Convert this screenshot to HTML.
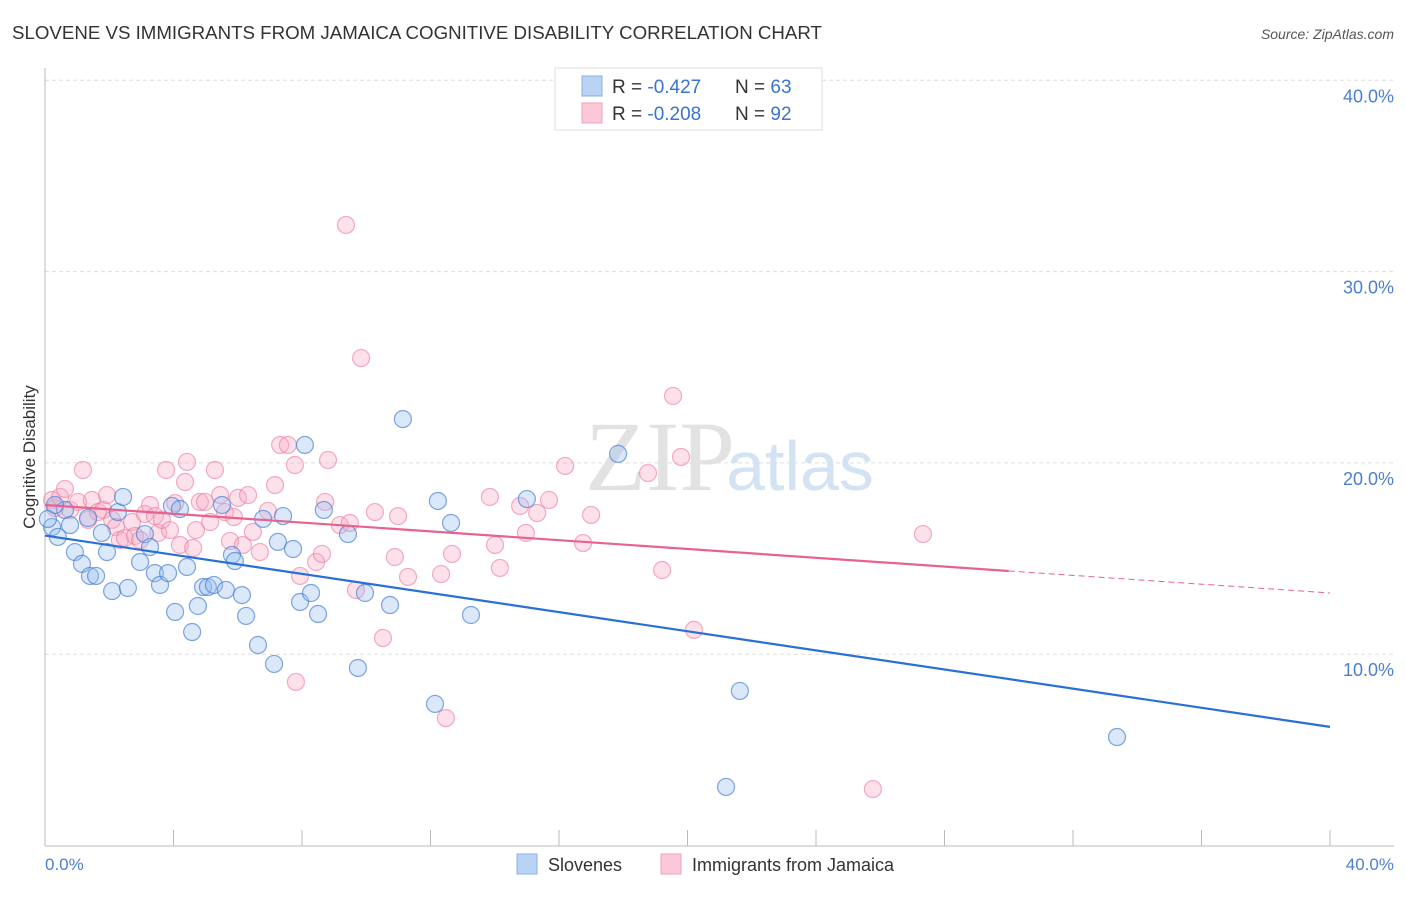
<!DOCTYPE html>
<html><head><meta charset="utf-8"><style>
body{margin:0;background:#fff;font-family:"Liberation Sans",sans-serif;}
</style></head><body>
<svg width="1406" height="892" xmlns="http://www.w3.org/2000/svg">
<text x="12" y="39" font-size="18.7" fill="#333">SLOVENE VS IMMIGRANTS FROM JAMAICA COGNITIVE DISABILITY CORRELATION CHART</text>
<text x="1394" y="39" font-size="14" fill="#555" font-style="italic" text-anchor="end">Source: ZipAtlas.com</text>
<g id="grid"></g>
<line x1="45" y1="68" x2="45" y2="846" stroke="#bbb"/>
<line x1="45" y1="846" x2="1394" y2="846" stroke="#bbb"/>
<text x="660" y="490" font-size="100" fill="#e2e2e2" font-family="Liberation Serif" text-anchor="middle">ZIP</text>
<text x="800" y="490" font-size="70" fill="#d3e3f4" text-anchor="middle">atlas</text>
<text x="35" y="457" font-size="17" fill="#333" transform="rotate(-90 35 457)" text-anchor="middle">Cognitive Disability</text>
<text x="45" y="870" font-size="17" fill="#4a7fd4">0.0%</text>
<text x="1394" y="870" font-size="17" fill="#4a7fd4" text-anchor="end">40.0%</text>
<g id="pts"></g>
<g id="lines"></g>
<g>
<rect x="555" y="68" width="267" height="62" fill="#fff" stroke="#ddd"/>
<rect x="582" y="76" width="20" height="20" fill="#b9d3f5" stroke="#8ab0e8"/>
<rect x="582" y="103" width="20" height="20" fill="#fbc8d7" stroke="#f0a0b8"/>
<text x="612" y="93" font-size="19" fill="#333">R = <tspan fill="#3a73d0">-0.427</tspan></text>
<text x="735" y="93" font-size="19" fill="#333">N = <tspan fill="#3a73d0">63</tspan></text>
<text x="612" y="120" font-size="19" fill="#333">R = <tspan fill="#3a73d0">-0.208</tspan></text>
<text x="735" y="120" font-size="19" fill="#333">N = <tspan fill="#3a73d0">92</tspan></text>
</g>
<g>
<rect x="517" y="854" width="20" height="20" fill="#b9d3f5" stroke="#8ab0e8"/>
<text x="548" y="871" font-size="18" fill="#333">Slovenes</text>
<rect x="661" y="854" width="20" height="20" fill="#fbc8d7" stroke="#f0a0b8"/>
<text x="692" y="871" font-size="18" fill="#333">Immigrants from Jamaica</text>
</g>
</svg>
<script>
const yTicks=[10,20,30,40];
const xTicks=[0,4,8,12,16,20,24,28,32,36,40];
const bluePx=[[52,527],[58,537],[65,510],[70,525],[75,552],[82,564],[90,576],[96,576],[102,533],[107,552],[112,591],[118,512],[123,497],[128,588],[140,562],[145,534],[150,547],[155,573],[160,585],[168,573],[172,506],[175,612],[180,509],[187,567],[192,632],[198,606],[203,587],[208,587],[214,585],[222,505],[226,590],[232,555],[235,561],[242,595],[246,616],[258,645],[263,519],[274,664],[278,542],[283,516],[293,549],[300,602],[305,445],[311,593],[318,614],[324,510],[348,534],[358,668],[365,593],[390,605],[403,419],[435,704],[438,501],[451,523],[471,615],[527,499],[618,454],[726,787],[740,691],[1117,737],[48,519],[55,505],[88,518]];
const pinkPx=[[52,500],[55,508],[60,497],[65,489],[70,510],[78,502],[83,470],[88,520],[92,500],[98,512],[103,510],[107,495],[112,520],[116,527],[120,540],[125,538],[132,522],[135,536],[140,540],[145,514],[150,505],[155,516],[158,533],[162,520],[166,470],[170,530],[175,503],[180,545],[185,482],[187,462],[193,548],[196,530],[200,502],[205,502],[210,522],[215,470],[220,495],[225,512],[230,541],[234,517],[238,498],[243,545],[248,495],[253,532],[260,552],[268,511],[275,485],[280,445],[288,445],[295,465],[300,576],[296,682],[316,562],[322,554],[325,502],[328,460],[340,525],[346,225],[350,523],[356,590],[361,358],[375,512],[383,638],[395,557],[398,516],[408,577],[441,574],[446,718],[452,554],[490,497],[495,545],[500,568],[520,506],[526,533],[537,513],[549,500],[565,466],[583,543],[591,515],[648,473],[662,570],[673,396],[681,457],[694,630],[873,789],[923,534]];
const blueX=bluePx.map(p=>+((p[0]-45)/32.125).toFixed(2));
const blueY=bluePx.map(p=>+((845.5-p[1])/19.13).toFixed(2));
const pinkX=pinkPx.map(p=>+((p[0]-45)/32.125).toFixed(2));
const pinkY=pinkPx.map(p=>+((845.5-p[1])/19.13).toFixed(2));
const blueTrend=[16.2,6.2];
const pinkTrend=[17.8,13.2];
const NS="http://www.w3.org/2000/svg";
const sx=v=>45+v*32.125, sy=v=>845.5-v*19.13;
function mk(t,a,parent){const e=document.createElementNS(NS,t);for(const k in a)e.setAttribute(k,a[k]);parent.appendChild(e);return e;}
const grid=document.getElementById('grid');
yTicks.forEach(t=>{
 const l=mk('line',{x1:45,x2:1394,y1:sy(t),y2:sy(t),stroke:'#ddd','stroke-dasharray':'4,3'},grid);
 
 
 const tx=mk('text',{x:1394,y:sy(t)+22,'font-size':18,fill:'#4a7fd4','text-anchor':'end'},grid);
 tx.textContent=t.toFixed(1)+'%';
 
 
});
xTicks.forEach(t=>{
 const l=mk('line',{x1:sx(t),x2:sx(t),y1:830,y2:846,stroke:'#bbb'},grid);
 
 
});
const pts=document.getElementById('pts');
pinkX.forEach((x,i)=>{
 const c=mk('circle',{cx:sx(x),cy:sy(pinkY[i]),r:8.5,fill:'rgba(248,170,195,0.35)',stroke:'rgba(235,120,155,0.6)','stroke-width':1.2},pts);
 
 
});
blueX.forEach((x,i)=>{
 const c=mk('circle',{cx:sx(x),cy:sy(blueY[i]),r:8.5,fill:'rgba(150,190,240,0.35)',stroke:'rgba(60,120,210,0.65)','stroke-width':1.2},pts);
 
 
});
const lines=document.getElementById('lines');
const bl=mk('line',{x1:sx(0),y1:sy(blueTrend[0]),x2:sx(40),y2:sy(blueTrend[1]),stroke:'#2a6fd6','stroke-width':2.2},lines);


const pm=t=>pinkTrend[0]+(pinkTrend[1]-pinkTrend[0])*t/40;
const pl=mk('line',{x1:sx(0),y1:sy(pm(0)),x2:sx(30),y2:sy(pm(30)),stroke:'#e8628e','stroke-width':2.2},lines);


const pd=mk('line',{x1:sx(30),y1:sy(pm(30)),x2:sx(40),y2:sy(pm(40)),stroke:'#e8628e','stroke-width':1,'stroke-dasharray':'6,4'},lines);


</script>
</body></html>
